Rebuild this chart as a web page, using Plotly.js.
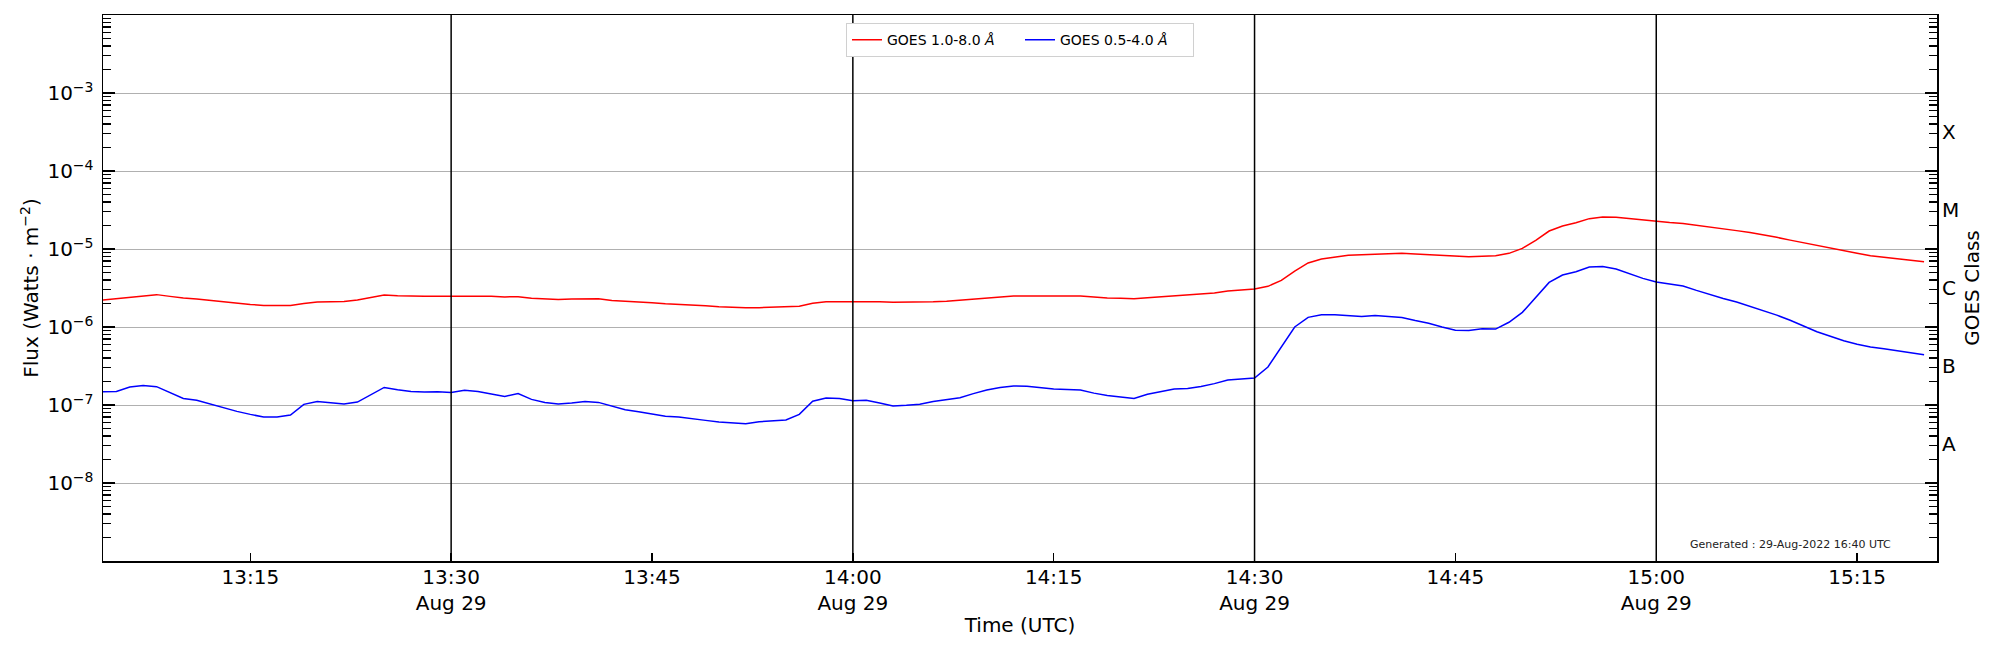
<!DOCTYPE html>
<html>
<head>
<meta charset="utf-8">
<script src="https://cdn.plot.ly/plotly-3.0.1.min.js"></script>
<style>
  html, body { margin: 0; padding: 0; background: #fff; }
  #goes { width: 2000px; height: 650px; }
</style>
</head>
<body>
<div id="goes"></div>
<script>
// one sample per minute, starting 13:04 UTC
const startTime = "2022-08-29T13:04:00";
const nSamples = 137;

// GOES 1.0-8.0 A flux, units of 1e-6 W/m^2
const longFlux = [
  2.22, 2.31, 2.40, 2.50, 2.60, 2.47, 2.35, 2.29, 2.19, 2.10,
  2.01, 1.95, 1.89, 1.88, 1.89, 2.00, 2.09, 2.11, 2.13, 2.22,
  2.40, 2.57, 2.52, 2.47, 2.47, 2.47, 2.47, 2.50, 2.52, 2.47,
  2.43, 2.45, 2.34, 2.29, 2.26, 2.29, 2.31, 2.31, 2.19, 2.15,
  2.11, 2.05, 1.99, 1.96, 1.93, 1.87, 1.82, 1.79, 1.77, 1.77,
  1.78, 1.80, 1.84, 2.01, 2.11, 2.11, 2.11, 2.15, 2.11, 2.07,
  2.07, 2.07, 2.10, 2.14, 2.20, 2.28, 2.35, 2.43, 2.50, 2.50,
  2.50, 2.50, 2.50, 2.50, 2.43, 2.35, 2.33, 2.31, 2.38, 2.45,
  2.51, 2.57, 2.65, 2.73, 2.90, 2.98, 3.07, 3.32, 3.96, 5.22,
  6.62, 7.45, 7.90, 8.30, 8.45, 8.60, 8.70, 8.80, 8.65, 8.46,
  8.20, 8.00, 7.96, 8.10, 8.20, 8.80, 10.2, 12.9, 17.0, 19.7,
  21.7, 24.5, 25.7, 25.5, 24.5, 23.3, 22.4, 21.9, 21.3, 20.1,
  18.9, 18.0, 17.2, 16.3, 15.3, 14.1, 13.0, 12.0, 11.0, 10.2,
  9.4, 8.8, 8.2, 7.8, 7.45, 7.15, 6.88
];

// GOES 0.5-4.0 A flux, units of 1e-7 W/m^2
const shortFlux = [
  1.48, 1.49, 1.70, 1.78, 1.72, 1.45, 1.21, 1.15, 1.03, 0.915,
  0.828, 0.758, 0.70, 0.70, 0.745, 1.02, 1.11, 1.07, 1.03, 1.09,
  1.35, 1.68, 1.57, 1.49, 1.47, 1.48, 1.45, 1.54, 1.49, 1.38,
  1.29, 1.40, 1.18, 1.08, 1.03, 1.06, 1.11, 1.08, 0.96, 0.87,
  0.82, 0.76, 0.715, 0.70, 0.673, 0.635, 0.605, 0.587, 0.575, 0.61,
  0.62, 0.643, 0.758, 1.12, 1.23, 1.21, 1.13, 1.15, 1.06, 0.97,
  0.99, 1.02, 1.11, 1.17, 1.24, 1.40, 1.56, 1.68, 1.75, 1.74,
  1.67, 1.60, 1.58, 1.56, 1.42, 1.32, 1.27, 1.21, 1.37, 1.48,
  1.60, 1.63, 1.73, 1.88, 2.09, 2.15, 2.22, 3.07, 5.64, 10.0,
  13.3, 14.4, 14.4, 14.1, 13.6, 14.0, 13.6, 13.2, 12.1, 11.2,
  10.0, 9.1, 9.05, 9.5, 9.4, 11.5, 15.4, 23.8, 37.3, 46.4,
  51.2, 58.7, 59.8, 55.4, 48.2, 42.0, 37.7, 35.5, 33.6, 29.5,
  26.0, 23.2, 20.9, 18.3, 16.3, 14.2, 12.2, 10.3, 8.7, 7.6,
  6.67, 6.0, 5.54, 5.25, 4.97, 4.7, 4.42
];

const xTickVals = ["2022-08-29 13:15", "2022-08-29 13:30", "2022-08-29 13:45", "2022-08-29 14:00",
  "2022-08-29 14:15", "2022-08-29 14:30", "2022-08-29 14:45", "2022-08-29 15:00", "2022-08-29 15:15"];
const xTickText = ["13:15", "13:30<br>Aug 29", "13:45", "14:00<br>Aug 29",
  "14:15", "14:30<br>Aug 29", "14:45", "15:00<br>Aug 29", "15:15"];
const markerTimes = ["2022-08-29 13:30", "2022-08-29 14:00", "2022-08-29 14:30", "2022-08-29 15:00"];

const fluxTickVals = [1e-9, 1e-8, 1e-7, 1e-6, 1e-5, 1e-4, 1e-3, 1e-2];
const fluxTickText = ["", "10<sup>−8</sup>", "10<sup>−7</sup>", "10<sup>−6</sup>", "10<sup>−5</sup>", "10<sup>−4</sup>", "10<sup>−3</sup>", ""];
const classLetters = ["A", "B", "C", "M", "X"];
const classVals = [Math.pow(10, -7.5), Math.pow(10, -6.5), Math.pow(10, -5.5), Math.pow(10, -4.5), Math.pow(10, -3.5)];

let times = [];
let t0 = new Date(startTime + "Z").getTime();
for (let i = 0; i < nSamples; i++) {
  times.push(new Date(t0 + i * 60000).toISOString().slice(0, 19).replace("T", " "));
}

// minor log tick positions 2..9 in each decade
let minorVals = [];
for (let d = -9; d < -2; d++) {
  for (let k = 2; k <= 9; k++) minorVals.push(k * Math.pow(10, d));
}

const FONT = "DejaVu Sans, Liberation Sans, sans-serif";

// empty trace used to bring an overlay axis to life
function axisHolder(axisName) {
  return { x: [times[0]], y: [1e-12], yaxis: axisName, showlegend: false, hoverinfo: "skip", mode: "lines" };
}

let traces = [
  {
    x: times,
    y: longFlux.map(v => v * 1e-6),
    name: "GOES 1.0-8.0 <i>Å</i>",
    mode: "lines",
    line: { color: "red", width: 1.5 }
  },
  {
    x: times,
    y: shortFlux.map(v => v * 1e-7),
    name: "GOES 0.5-4.0 <i>Å</i>",
    mode: "lines",
    line: { color: "blue", width: 1.5 }
  },
  axisHolder("y2"),
  axisHolder("y3"),
  axisHolder("y4")
];

let shapes = markerTimes.map(t => ({
  type: "line", xref: "x", yref: "paper",
  x0: t, x1: t, y0: 0, y1: 1,
  line: { color: "black", width: 1.5 },
  layer: "above"
}));

// tick-only overlay axis (minor log ticks)
function minorTickAxis(side) {
  return {
    type: "log",
    overlaying: "y",
    side: side,
    range: [-9, -2],
    tickmode: "array",
    tickvals: minorVals,
    ticks: "inside",
    ticklen: 8,
    tickwidth: 1.4,
    tickcolor: "black",
    showticklabels: false,
    showgrid: false,
    zeroline: false,
    showline: false
  };
}

let layout = {
  width: 2000,
  height: 650,
  margin: { l: 103, r: 63, t: 15, b: 89 },
  paper_bgcolor: "white",
  plot_bgcolor: "white",
  font: { family: FONT, size: 20, color: "black" },
  showlegend: true,
  legend: {
    orientation: "h",
    x: 0.5, xanchor: "center",
    y: 0.985, yanchor: "top",
    bgcolor: "white",
    bordercolor: "#d0d0d0",
    borderwidth: 1,
    entrywidth: 128,
    font: { size: 14 }
  },
  xaxis: {
    type: "date",
    range: ["2022-08-29 13:04:00", "2022-08-29 15:20:58"],
    tickmode: "array",
    tickvals: xTickVals,
    ticktext: xTickText,
    ticks: "inside",
    ticklen: 8,
    tickwidth: 1.4,
    tickcolor: "black",
    ticklabelstandoff: -3,
    showline: true,
    mirror: true,
    linecolor: "black",
    linewidth: 1.5,
    showgrid: false,
    zeroline: false,
    tickfont: { size: 20 },
    title: { text: "Time (UTC)", font: { size: 20 }, standoff: 4 }
  },
  yaxis: {
    type: "log",
    range: [-9, -2],
    tickmode: "array",
    tickvals: fluxTickVals,
    ticktext: fluxTickText,
    ticks: "inside",
    ticklen: 12,
    tickwidth: 1.4,
    tickcolor: "black",
    ticklabelstandoff: 4,
    showline: true,
    mirror: "allticks",
    linecolor: "black",
    linewidth: 1.5,
    showgrid: true,
    gridcolor: "#b0b0b0",
    gridwidth: 1,
    zeroline: false,
    tickfont: { size: 20 },
    title: { text: "Flux (Watts · m<sup>−2</sup>)", font: { size: 20 }, standoff: 3 }
  },
  yaxis2: {
    type: "log",
    overlaying: "y",
    side: "right",
    range: [-9, -2],
    tickmode: "array",
    tickvals: classVals,
    ticktext: classLetters,
    ticks: "",
    showgrid: false,
    zeroline: false,
    showline: false,
    ticklabelstandoff: 4,
    tickfont: { size: 20 },
    title: { text: "GOES Class", font: { size: 20 }, standoff: 6 }
  },
  yaxis3: minorTickAxis("left"),
  yaxis4: minorTickAxis("right"),
  shapes: shapes,
  annotations: [
    {
      xref: "paper", yref: "paper",
      x: 0.92, y: 0.031,
      xanchor: "center", yanchor: "middle",
      text: "Generated : 29-Aug-2022 16:40 UTC",
      showarrow: false,
      font: { size: 11, color: "#222" }
    }
  ]
};

Plotly.newPlot("goes", traces, layout, { displayModeBar: false, staticPlot: true });
</script>
</body>
</html>
